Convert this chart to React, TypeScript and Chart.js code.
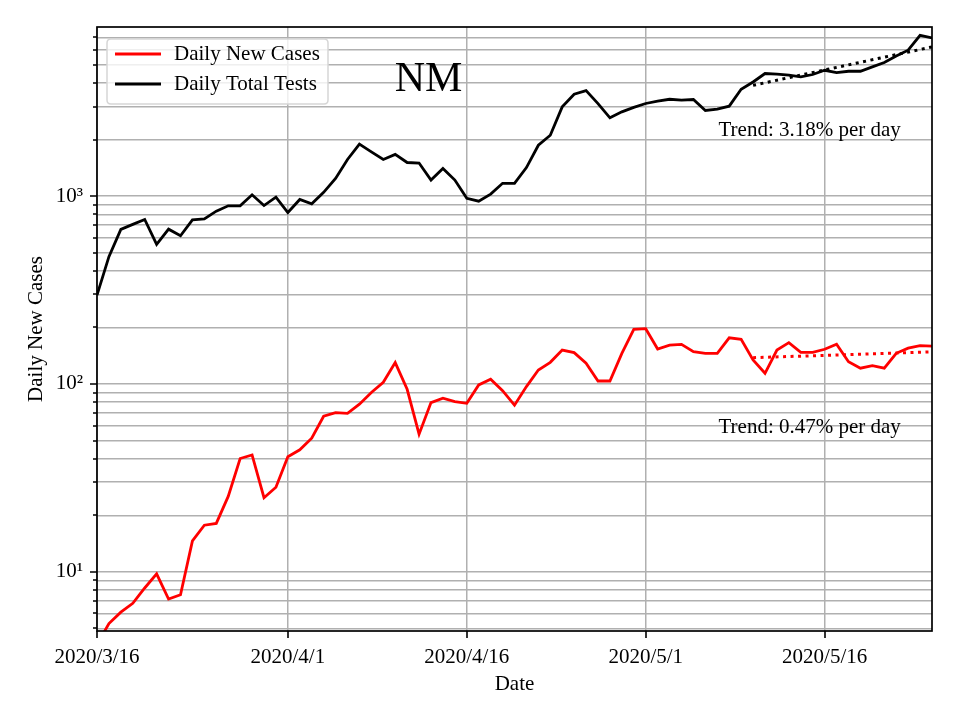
import React, { useEffect, useRef } from "react";
import { Chart, registerables } from "chart.js";

Chart.register(...registerables);

// Day index 0 = 2020/3/16 ... 70 = 2020/5/25
const days: number[] = Array.from({ length: 71 }, (_, i) => i);

const dailyNewCases: number[] = [
  4.1, 5.3, 6.1, 6.8, 8.2, 9.75, 7.16, 7.55, 14.6, 17.7,
  18.1, 25.2, 40.1, 41.9, 24.8, 28.2, 41.0, 44.6, 51.4, 67.3,
  70.3, 69.8, 78, 90, 102, 130, 93.7, 54.0, 79.6, 84.0,
  80.6, 78.9, 98.8, 106, 92.1, 77.1, 96.8, 118.7, 130.4, 151.6,
  146.8, 128.9, 103.7, 103.7, 145.5, 195.3, 196.9, 153.5, 161, 162.6,
  148.5, 145.6, 145.6, 176, 172.8, 134.3, 114, 151.6, 166, 147.4,
  147.4, 153, 162.6, 131.4, 121.3, 125.1, 121.3, 145.6, 155, 159.9,
  159,
];

const dailyTotalTests: number[] = [
  297, 476, 665, 707, 751, 553, 667, 615, 748, 757,
  832, 888, 888, 1016, 891, 988, 818, 960, 910, 1047,
  1242, 1567, 1892, 1721, 1567, 1667, 1510, 1500, 1217, 1403,
  1217, 973, 940, 1025, 1170, 1170, 1419, 1866, 2109, 2986,
  3488, 3646, 3110, 2612, 2810, 2967, 3113, 3201, 3279, 3243,
  3267, 2857, 2904, 3013, 3706, 4052, 4494, 4459, 4402, 4312,
  4440, 4677, 4547, 4622, 4622, 4876, 5146, 5577, 5979, 7180,
  6950,
];

// Trend lines (start day 55 = 5/10, end day 70 = 5/25)
const trendDays: number[] = [55, 70];
const casesTrend: number[] = [138, 148.2];
const testsTrend: number[] = [3890, 6225];

const xTickDays: number[] = [0, 16, 31, 46, 61];
const xTickLabels: string[] = ["2020/3/16", "2020/4/1", "2020/4/16", "2020/5/1", "2020/5/16"];
const yMajorTicks: number[] = [10, 100, 1000];
const yMajorLabels: string[] = ["10\u00B9", "10\u00B2", "10\u00B3"];

const Y_MIN = 4.84;
const Y_MAX = 7950;

const FONT = "'Liberation Serif', 'Times New Roman', serif";

export default function App() {
  const ref = useRef<HTMLCanvasElement | null>(null);

  useEffect(() => {
    if (!ref.current) return;

    const yTicks: number[] = [];
    for (let d = 1; d <= 1000; d *= 10) {
      for (let m = 1; m <= 9; m++) {
        const v = m * d;
        if (v >= Y_MIN && v <= Y_MAX) yTicks.push(v);
      }
    }

    const framePlugin = {
      id: "frameAndExtras",
      afterDatasetsDraw(chart: any) {
        const { ctx, chartArea } = chart;
        const xs = chart.scales.x;
        const ys = chart.scales.y;
        ctx.save();
        // tick marks
        ctx.strokeStyle = "#000";
        ctx.lineWidth = 1.6;
        ctx.beginPath();
        xTickDays.forEach((d) => {
          const px = Math.round(xs.getPixelForValue(d));
          ctx.moveTo(px, chartArea.bottom);
          ctx.lineTo(px, chartArea.bottom + 7);
        });
        yTicks.forEach((v) => {
          const py = Math.round(ys.getPixelForValue(v));
          const len = yMajorTicks.includes(v) ? 7 : 4;
          ctx.moveTo(chartArea.left, py);
          ctx.lineTo(chartArea.left - len, py);
        });
        ctx.stroke();
        // frame
        ctx.lineWidth = 1.7;
        ctx.strokeRect(chartArea.left, chartArea.top, chartArea.right - chartArea.left, chartArea.bottom - chartArea.top);

        // texts
        ctx.fillStyle = "#000";
        ctx.textBaseline = "middle";
        ctx.textAlign = "center";
        ctx.font = `42px ${FONT}`;
        ctx.fillText("NM", xs.getPixelForValue(27.8), ys.getPixelForValue(4150));
        ctx.textAlign = "left";
        ctx.font = `21px ${FONT}`;
        ctx.fillText("Trend: 3.18% per day", xs.getPixelForValue(52.1), ys.getPixelForValue(2244));
        ctx.fillText("Trend: 0.47% per day", xs.getPixelForValue(52.1), ys.getPixelForValue(59));

        // legend
        const lx = chartArea.left + 10;
        const ly = chartArea.top + 12;
        const lw = 221;
        const lh = 65;
        const r = 4;
        ctx.beginPath();
        ctx.moveTo(lx + r, ly);
        ctx.lineTo(lx + lw - r, ly);
        ctx.quadraticCurveTo(lx + lw, ly, lx + lw, ly + r);
        ctx.lineTo(lx + lw, ly + lh - r);
        ctx.quadraticCurveTo(lx + lw, ly + lh, lx + lw - r, ly + lh);
        ctx.lineTo(lx + r, ly + lh);
        ctx.quadraticCurveTo(lx, ly + lh, lx, ly + lh - r);
        ctx.lineTo(lx, ly + r);
        ctx.quadraticCurveTo(lx, ly, lx + r, ly);
        ctx.closePath();
        ctx.fillStyle = "rgba(255,255,255,0.8)";
        ctx.fill();
        ctx.strokeStyle = "#d6d6d6";
        ctx.lineWidth = 1.5;
        ctx.stroke();
        const entries = chart.data.datasets.filter((ds: any) => ds.showInLegend);
        entries.forEach((ds: any, i: number) => {
          const cy = ly + 15 + i * 30;
          ctx.strokeStyle = ds.borderColor;
          ctx.lineWidth = 2.8;
          ctx.beginPath();
          ctx.moveTo(lx + 8, cy);
          ctx.lineTo(lx + 54, cy);
          ctx.stroke();
          ctx.fillStyle = "#000";
          ctx.font = `21px ${FONT}`;
          ctx.textAlign = "left";
          ctx.textBaseline = "middle";
          ctx.fillText(ds.label, lx + 67, cy);
        });
        ctx.restore();
      },
    };

    const toPts = (xs: number[], ys: number[]) => xs.map((x, i) => ({ x, y: ys[i] }));

    const chart = new Chart(ref.current, {
      type: "line",
      data: {
        datasets: [
          {
            label: "Daily New Cases",
            data: toPts(days, dailyNewCases),
            borderColor: "#ff0000",
            borderWidth: 2.8,
            pointRadius: 0,
            tension: 0,
            showInLegend: true,
          } as any,
          {
            label: "Daily Total Tests",
            data: toPts(days, dailyTotalTests),
            borderColor: "#000000",
            borderWidth: 2.8,
            pointRadius: 0,
            tension: 0,
            showInLegend: true,
          } as any,
          {
            label: "Cases Trend",
            data: toPts(trendDays, casesTrend),
            borderColor: "#ff0000",
            borderWidth: 3,
            borderDash: [3, 4.5],
            pointRadius: 0,
            tension: 0,
          },
          {
            label: "Tests Trend",
            data: toPts(trendDays, testsTrend),
            borderColor: "#000000",
            borderWidth: 3,
            borderDash: [3, 4.5],
            pointRadius: 0,
            tension: 0,
          },
        ],
      },
      options: {
        animation: false,
        responsive: false,
        devicePixelRatio: 1,
        layout: { padding: { top: 27, right: 28, left: 0, bottom: 0 } },
        plugins: {
          legend: { display: false },
          tooltip: { enabled: false },
        },
        scales: {
          x: {
            type: "linear",
            min: 0,
            max: 70,
            afterBuildTicks: (scale: any) => {
              scale.ticks = xTickDays.map((v) => ({ value: v }));
            },
            afterFit: (scale: any) => {
              scale.height = 89;
              scale.paddingLeft = 0;
              scale.paddingRight = 0;
            },
            ticks: {
              autoSkip: false,
              maxRotation: 0,
              padding: 14,
              color: "#000",
              font: { family: FONT, size: 21 },
              callback: (value: any) => {
                const i = xTickDays.indexOf(Number(value));
                return i >= 0 ? xTickLabels[i] : "";
              },
            },
            grid: { color: "#b0b0b0", lineWidth: 1.5, drawTicks: false },
            border: { display: false },
            title: {
              display: true,
              text: "Date",
              color: "#000",
              font: { family: FONT, size: 21 },
              padding: { top: 0, bottom: 23 },
            },
          },
          y: {
            type: "logarithmic",
            min: Y_MIN,
            max: Y_MAX,
            afterBuildTicks: (scale: any) => {
              scale.ticks = yTicks.map((v) => ({ value: v, major: yMajorTicks.includes(v) }));
            },
            afterFit: (scale: any) => {
              scale.width = 97;
              scale.paddingTop = 0;
              scale.paddingBottom = 0;
            },
            ticks: {
              autoSkip: false,
              padding: 14,
              color: "#000",
              font: { family: FONT, size: 21 },
              callback: (value: any) => {
                const i = yMajorTicks.indexOf(Number(value));
                return i >= 0 ? yMajorLabels[i] : "";
              },
            },
            grid: { color: "#b0b0b0", lineWidth: 1.5, drawTicks: false },
            border: { display: false },
            title: {
              display: true,
              text: "Daily New Cases",
              color: "#000",
              font: { family: FONT, size: 21 },
              padding: { top: 24, bottom: 0 },
            },
          },
        },
      } as any,
      plugins: [framePlugin],
    });

    return () => chart.destroy();
  }, []);

  return (
    <div style={{ position: "absolute", left: 0, top: 0, width: 960, height: 720, background: "#fff" }}>
      <canvas ref={ref} width={960} height={720} style={{ display: "block", width: 960, height: 720 }} />
    </div>
  );
}
